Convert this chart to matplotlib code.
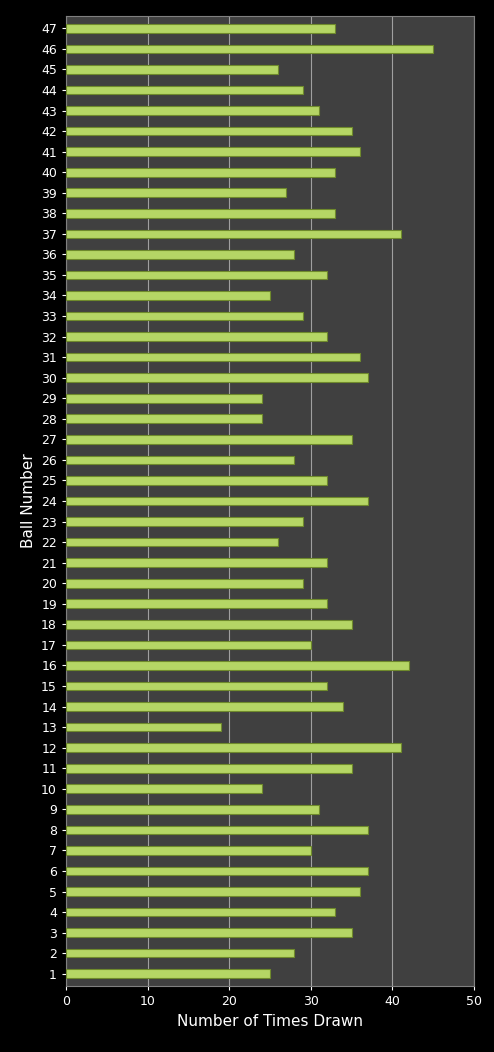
import matplotlib
matplotlib.use('Agg')
import matplotlib.pyplot as plt

balls = list(range(1, 48))
times_drawn = [25, 28, 35, 33, 36, 37, 30, 37, 31, 24,
               35, 41, 19, 34, 32, 42, 30, 35, 32, 29,
               32, 26, 29, 37, 32, 28, 35, 24, 24, 37,
               36, 32, 29, 25, 32, 28, 41, 33, 27, 33,
               36, 35, 31, 29, 26, 45, 33]

fig = plt.figure(figsize=(4.94, 10.52), dpi=100, facecolor='black')
ax = fig.add_axes([0.1336, 0.0627, 0.8259, 0.9221], facecolor='#404040')

ax.barh(balls, times_drawn, height=0.42, color='#b5d665', edgecolor='#6f8a2c', linewidth=0.8, zorder=3)
ax.set_xlim(0, 50)
ax.set_ylim(0.4, 47.6)
ax.set_xticks([0, 10, 20, 30, 40, 50])
ax.set_yticks(balls)
ax.set_yticklabels([str(b) for b in balls])
ax.grid(axis='x', color='#a0a0a0', linewidth=0.8, zorder=0)
ax.tick_params(colors='white', labelsize=9, length=3)
for s in ax.spines.values():
    s.set_color('#808080')
ax.set_xlabel('Number of Times Drawn', color='white', fontsize=11)
ax.set_ylabel('Ball Number', color='white', fontsize=11, labelpad=4)

fig.savefig('out.png', dpi=100, facecolor='black')
